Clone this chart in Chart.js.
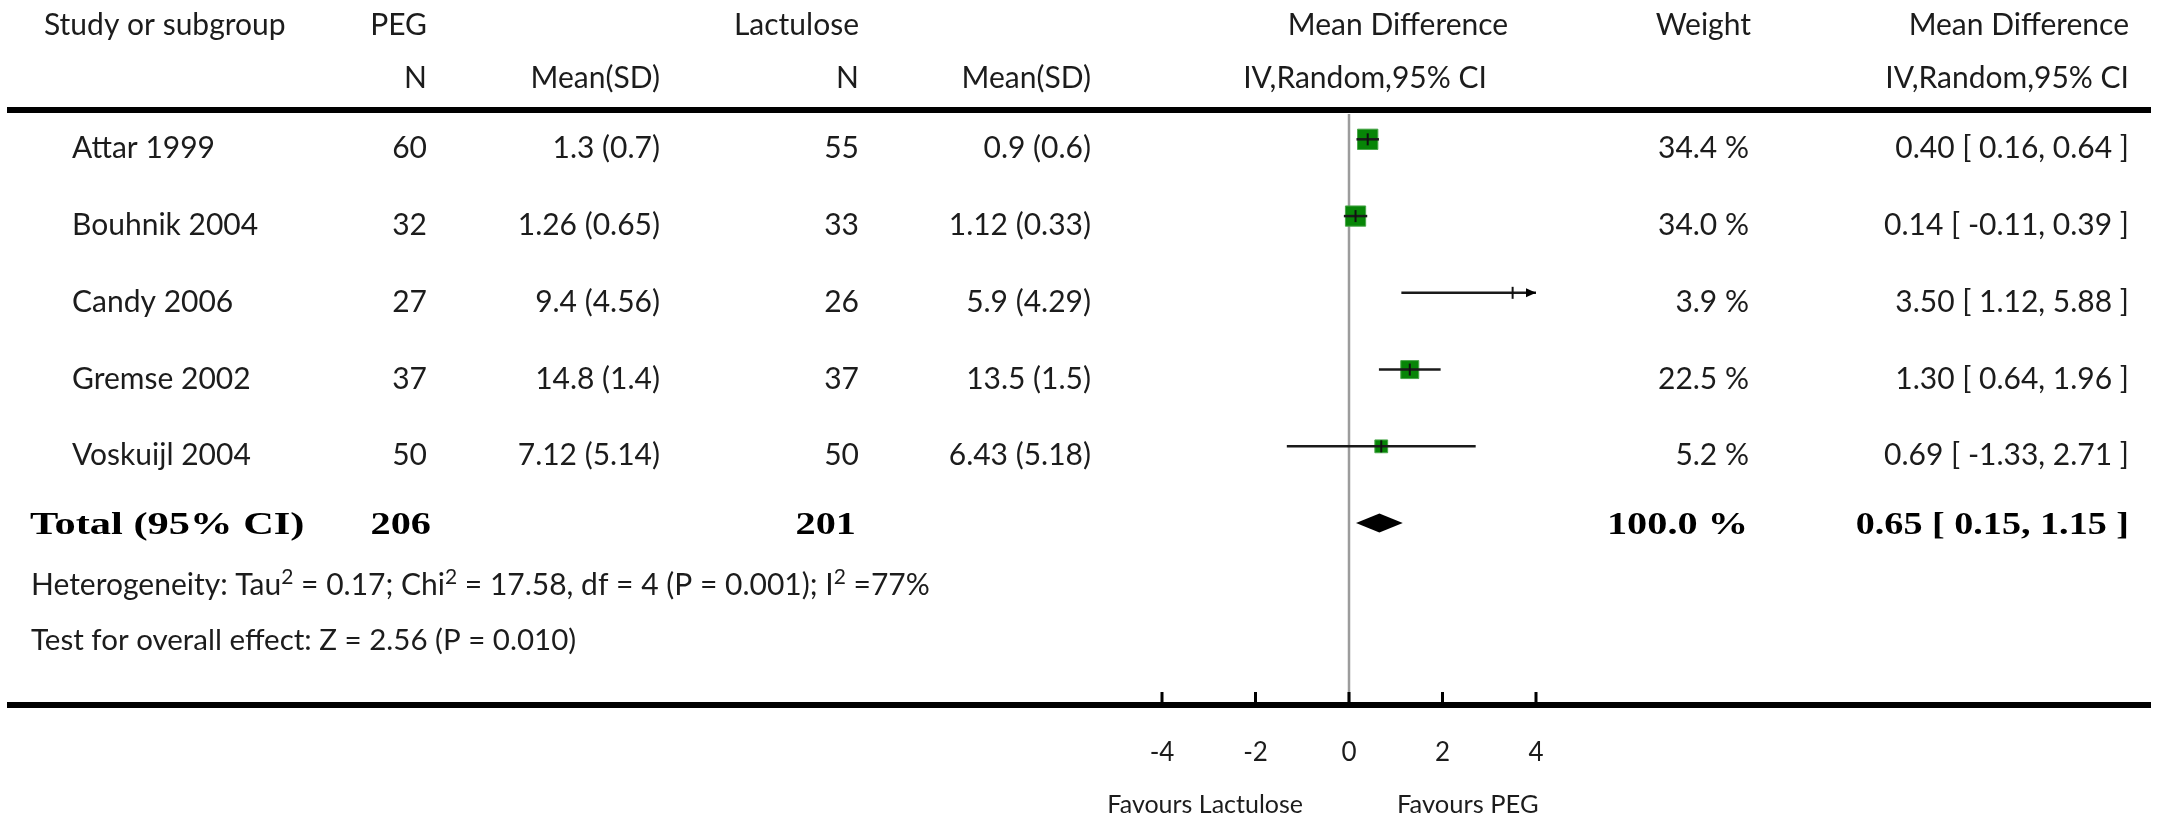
<!DOCTYPE html>
<html>
<head>
<meta charset="utf-8">
<script src="https://cdn.jsdelivr.net/npm/chart.js@4.4.0/dist/chart.umd.min.js"></script>
<style>
  html, body { margin: 0; padding: 0; background: #fff; }
  canvas { display: block; }
</style>
</head>
<body>
<canvas id="forest" width="2158" height="817"></canvas>
<script>
// ---- Study data (mean difference, PEG vs Lactulose) ----
const studies  = ['Attar 1999', 'Bouhnik 2004', 'Candy 2006', 'Gremse 2002', 'Voskuijl 2004'];
const pegN     = [60, 32, 27, 37, 50];
const pegMean  = [1.3, 1.26, 9.4, 14.8, 7.12];
const pegSD    = [0.7, 0.65, 4.56, 1.4, 5.14];
const lacN     = [55, 33, 26, 37, 50];
const lacMean  = [0.9, 1.12, 5.9, 13.5, 6.43];
const lacSD    = [0.6, 0.33, 4.29, 1.5, 5.18];
const md       = [0.40, 0.14, 3.50, 1.30, 0.69];
const ciLow    = [0.16, -0.11, 1.12, 0.64, -1.33];
const ciHigh   = [0.64, 0.39, 5.88, 1.96, 2.71];
const weights  = [34.4, 34.0, 3.9, 22.5, 5.2];

// ---- Pooled result ----
const pooledMD   = 0.65;
const pooledLow  = 0.15;
const pooledHigh = 1.15;
const totalPEG   = 206;
const totalLac   = 201;
const totalWeight = 100.0;

// ---- Heterogeneity / overall effect ----
const tau2 = '0.17', chi2 = '17.58', hetDF = '4', hetP = '0.001', i2 = '77';
const zValue = '2.56', zP = '0.010';

// ---- Axis ----
const xTicks = [-4, -2, 0, 2, 4];
const xLeftLabel  = 'Favours Lactulose';
const xRightLabel = 'Favours PEG';

// ---------------------------------------------------------------
const X_MIN = Math.min(...xTicks), X_MAX = Math.max(...xTicks);
const totalRow = studies.length;

const SANS  = 'Lato, "Open Sans", sans-serif';
const SERIF = '"Liberation Serif", "Times New Roman", serif';
const INK   = '#1c1c1c';

const fmtMeanSD = (m, s) => `${m} (${s})`;
const fmtCI = (e, l, h) => `${e.toFixed(2)} [ ${l.toFixed(2)}, ${h.toFixed(2)} ]`;

// square side grows with study weight
const squareSide = w => 8 + 2.1 * Math.sqrt(w);
const truncated = i => ciHigh[i] > X_MAX || ciLow[i] < X_MIN;

function text(ctx, str, x, y, align, font) {
  ctx.font = font;
  ctx.textAlign = align;
  ctx.textBaseline = 'alphabetic';
  ctx.fillText(str, x, y);
}

// bold serif totals, widened horizontally
function wideText(ctx, str, x, y, align, size, stretch) {
  ctx.save();
  ctx.font = `bold ${size}px ${SERIF}`;
  ctx.textAlign = align;
  ctx.textBaseline = 'alphabetic';
  ctx.translate(x, y);
  ctx.scale(stretch, 1);
  ctx.fillText(str, 0, 0);
  ctx.restore();
}

// text with superscripts: parts = [[string, isSup], ...]
function richText(ctx, parts, x, y, size) {
  let cx = x;
  ctx.textAlign = 'left';
  ctx.textBaseline = 'alphabetic';
  for (const [s, sup] of parts) {
    ctx.font = `${sup ? Math.round(size * 0.7) : size}px ${SANS}`;
    ctx.fillText(s, cx, sup ? y - size * 0.38 : y);
    cx += ctx.measureText(s).width;
  }
}

const forestPlugin = {
  id: 'forestTable',
  beforeDatasetsDraw(chart) {
    const { ctx, chartArea, scales: { x } } = chart;
    const px = x.getPixelForValue(0);
    ctx.save();
    ctx.strokeStyle = '#9c9c9c';
    ctx.lineWidth = 2.5;
    ctx.beginPath();
    ctx.moveTo(px, chartArea.top);
    ctx.lineTo(px, chartArea.bottom);
    ctx.stroke();
    ctx.restore();
  },
  afterDatasetsDraw(chart) {
    const { ctx, scales: { x, y } } = chart;
    ctx.save();
    ctx.fillStyle = '#000';
    // arrow heads where a confidence interval runs off the axis
    studies.forEach((_, i) => {
      const py = y.getPixelForValue(i);
      if (ciHigh[i] > X_MAX) {
        const tip = x.getPixelForValue(X_MAX);
        ctx.beginPath();
        ctx.moveTo(tip, py);
        ctx.lineTo(tip - 10, py - 4.5);
        ctx.lineTo(tip - 10, py + 4.5);
        ctx.closePath();
        ctx.fill();
      }
      if (ciLow[i] < X_MIN) {
        const tip = x.getPixelForValue(X_MIN);
        ctx.beginPath();
        ctx.moveTo(tip, py);
        ctx.lineTo(tip + 10, py - 4.5);
        ctx.lineTo(tip + 10, py + 4.5);
        ctx.closePath();
        ctx.fill();
      }
    });
    // pooled diamond
    const dy = y.getPixelForValue(totalRow);
    ctx.beginPath();
    ctx.moveTo(x.getPixelForValue(pooledLow), dy);
    ctx.lineTo(x.getPixelForValue(pooledMD), dy - 9.5);
    ctx.lineTo(x.getPixelForValue(pooledHigh), dy);
    ctx.lineTo(x.getPixelForValue(pooledMD), dy + 9.5);
    ctx.closePath();
    ctx.fill();
    ctx.restore();
  },
  afterDraw(chart) {
    const { ctx, chartArea, scales: { x, y } } = chart;
    const W = chart.width;
    ctx.save();

    // heavy rules
    ctx.fillStyle = '#000';
    ctx.fillRect(7, 107, W - 14, 6);
    ctx.fillRect(7, chartArea.bottom - 3, W - 14, 6);
    // axis tick marks (pointing up)
    xTicks.forEach(v => {
      const px = x.getPixelForValue(v);
      ctx.fillRect(px - 1.5, chartArea.bottom - 13, 3, 11);
    });

    ctx.fillStyle = INK;
    const F = `30px ${SANS}`;

    // column headers
    text(ctx, 'Study or subgroup', 44, 35, 'left', F);
    text(ctx, 'PEG', 427, 35, 'right', F);
    text(ctx, 'Lactulose', 859, 35, 'right', F);
    text(ctx, 'Mean Difference', 1398, 35, 'center', F);
    text(ctx, 'Weight', 1751, 35, 'right', F);
    text(ctx, 'Mean Difference', 2129, 35, 'right', F);

    text(ctx, 'N', 427, 88, 'right', F);
    text(ctx, 'Mean(SD)', 660, 88, 'right', F);
    text(ctx, 'N', 859, 88, 'right', F);
    text(ctx, 'Mean(SD)', 1091, 88, 'right', F);
    text(ctx, 'IV,Random,95% CI', 1365, 88, 'center', F);
    text(ctx, 'IV,Random,95% CI', 2129, 88, 'right', F);

    // study rows
    studies.forEach((name, i) => {
      const by = y.getPixelForValue(i) + 19;
      text(ctx, name, 72, by, 'left', F);
      text(ctx, String(pegN[i]), 427, by, 'right', F);
      text(ctx, fmtMeanSD(pegMean[i], pegSD[i]), 660, by, 'right', F);
      text(ctx, String(lacN[i]), 859, by, 'right', F);
      text(ctx, fmtMeanSD(lacMean[i], lacSD[i]), 1091, by, 'right', F);
      text(ctx, `${weights[i].toFixed(1)} %`, 1749, by, 'right', F);
      text(ctx, fmtCI(md[i], ciLow[i], ciHigh[i]), 2129, by, 'right', F);
    });

    // total row
    const ty = y.getPixelForValue(totalRow) + 11;
    ctx.fillStyle = '#000';
    wideText(ctx, 'Total (95% CI)', 30, ty, 'left', 31, 1.37);
    wideText(ctx, String(totalPEG), 431, ty, 'right', 31, 1.3);
    wideText(ctx, String(totalLac), 856, ty, 'right', 31, 1.3);
    wideText(ctx, `${totalWeight.toFixed(1)} %`, 1748, ty, 'right', 31, 1.3);
    wideText(ctx, fmtCI(pooledMD, pooledLow, pooledHigh), 2129, ty, 'right', 31, 1.23);

    // statistics
    ctx.fillStyle = INK;
    richText(ctx, [
      ['Heterogeneity: Tau', false], ['2', true],
      [` = ${tau2}; Chi`, false], ['2', true],
      [` = ${chi2}, df = ${hetDF} (P = ${hetP}); I`, false], ['2', true],
      [` =${i2}%`, false]
    ], 31, 595, 30);
    richText(ctx, [[`Test for overall effect: Z = ${zValue} (P = ${zP})`, false]], 31, 650, 29.5);

    // favours labels
    const x0 = x.getPixelForValue(0);
    text(ctx, xLeftLabel, x0 - 46, 813, 'right', `25px ${SANS}`);
    text(ctx, xRightLabel, x0 + 48, 813, 'left', `25.5px ${SANS}`);

    ctx.restore();
  }
};

// ---- datasets ----
const datasets = [];

// weight squares (bottom layer)
datasets.push({
  type: 'scatter',
  data: md.map((v, i) => ({ x: v, y: i })),
  pointStyle: 'rect',
  pointRadius: c => truncated(c.dataIndex) ? 0 : squareSide(weights[c.dataIndex]) / Math.SQRT2,
  pointBackgroundColor: '#078507',
  pointBorderColor: '#4aa64a',
  pointBorderWidth: 1,
  order: 3
});

// confidence interval lines
studies.forEach((_, i) => {
  datasets.push({
    type: 'scatter',
    showLine: true,
    data: [
      { x: Math.max(ciLow[i], X_MIN), y: i },
      { x: Math.min(ciHigh[i], X_MAX), y: i }
    ],
    borderColor: '#1a1a1a',
    borderWidth: 2.5,
    pointRadius: 0,
    order: 2
  });
});

// point estimate marks
datasets.push({
  type: 'scatter',
  data: md.map((v, i) => ({ x: v, y: i })),
  pointStyle: 'line',
  rotation: 90,
  pointRadius: 6,
  pointBorderColor: '#111',
  pointBorderWidth: 2,
  order: 1
});

new Chart(document.getElementById('forest'), {
  type: 'scatter',
  data: { datasets },
  options: {
    responsive: false,
    animation: false,
    devicePixelRatio: 1,
    layout: { padding: { left: 1162, right: 622, top: 114, bottom: 0 } },
    plugins: { legend: { display: false }, tooltip: { enabled: false } },
    scales: {
      x: {
        type: 'linear',
        position: 'bottom',
        min: X_MIN,
        max: X_MAX,
        afterFit(s) { s.height = 112; },
        afterBuildTicks(s) { s.ticks = xTicks.map(v => ({ value: v })); },
        grid: { display: false, drawTicks: false },
        border: { display: false },
        ticks: {
          color: INK,
          font: { family: SANS, size: 26 },
          padding: 32,
          maxRotation: 0,
          autoSkip: false
        }
      },
      y: {
        type: 'linear',
        reverse: true,
        min: -0.33,
        max: 7.37,
        display: false
      }
    }
  },
  plugins: [forestPlugin]
});
</script>
</body>
</html>
